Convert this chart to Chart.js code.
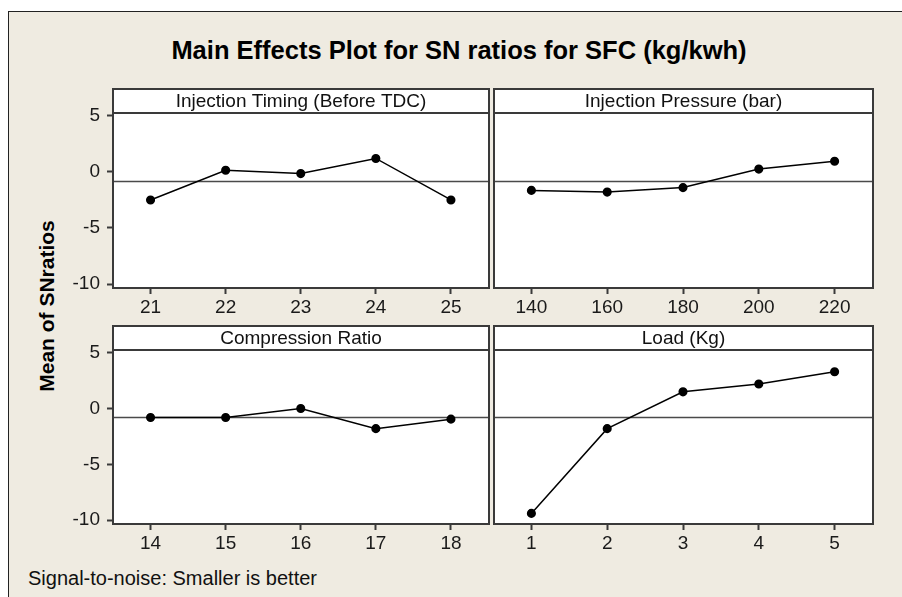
<!DOCTYPE html>
<html>
<head>
<meta charset="utf-8">
<script src="https://cdn.jsdelivr.net/npm/chart.js@4.4.0/dist/chart.umd.min.js"></script>
<style>
  html, body { margin:0; padding:0; background:#fff; }
  body { width:902px; height:597px; position:relative; overflow:hidden; font-family:"Liberation Sans", Arial, sans-serif; }
  #frame { position:absolute; left:8px; top:11px; width:900px; height:600px; background:#efebe1; border-left:1px solid #222; border-top:1px solid #222; }
  canvas { position:absolute; }
  .title { position:absolute; left:8px; width:902px; top:36px; text-align:center; font-weight:bold; font-size:25.5px; color:#000; white-space:nowrap; }
  .ylab { position:absolute; left:47px; top:306px; transform:translate(-50%,-50%) rotate(-90deg); font-weight:bold; font-size:21px; white-space:nowrap; color:#000; }
  .note { position:absolute; left:28px; top:567px; font-size:20px; color:#111; white-space:nowrap; }
</style>
</head>
<body>
<div id="frame"></div>
<div class="title">Main Effects Plot for SN ratios for SFC (kg/kwh)</div>
<div class="ylab">Mean of SNratios</div>
<div class="note">Signal-to-noise: Smaller is better</div>
<canvas id="p1" width="441" height="243" style="left:53px;top:85px"></canvas>
<canvas id="p2" width="390" height="243" style="left:488px;top:85px"></canvas>
<canvas id="p3" width="441" height="242" style="left:53px;top:322px"></canvas>
<canvas id="p4" width="390" height="242" style="left:488px;top:322px"></canvas>
<script>
/* ---------- data ---------- */
const timingLabels = ['21','22','23','24','25'];
const timingSN = [-2.5, 0.15, -0.15, 1.2, -2.5];

const pressureLabels = ['140','160','180','200','220'];
const pressureSN = [-1.65, -1.8, -1.4, 0.25, 0.95];

const compLabels = ['14','15','16','17','18'];
const compSN = [-0.8, -0.8, 0.0, -1.8, -0.95];

const loadLabels = ['1','2','3','4','5'];
const loadSN = [-9.4, -1.8, 1.5, 2.2, 3.3];

const yTicks = [-10, -5, 0, 5];
const grandMean = -0.8;

/* ---------- panel frame / strip / reference line ---------- */
const STRIP = 24;
const FONT = '"Liberation Sans", Arial, sans-serif';
const panelPlugin = {
  id: 'panel',
  beforeDraw(chart){
    const {ctx, chartArea:a} = chart;
    ctx.save();
    ctx.fillStyle = '#fff';
    ctx.fillRect(a.left, a.top - STRIP, a.right - a.left, a.bottom - a.top + STRIP);
    ctx.restore();
  },
  beforeDatasetsDraw(chart){
    const {ctx, chartArea:a} = chart;
    const y = Math.round(chart.scales.y.getPixelForValue(grandMean)) + 0.5;
    ctx.save();
    ctx.strokeStyle = '#4a4a4a';
    ctx.lineWidth = 1.5;
    ctx.beginPath(); ctx.moveTo(a.left, y); ctx.lineTo(a.right, y); ctx.stroke();
    ctx.restore();
  },
  afterDraw(chart){
    const {ctx, chartArea:a} = chart;
    const l = Math.round(a.left), r = Math.round(a.right), t = Math.round(a.top), b = Math.round(a.bottom);
    ctx.save();
    ctx.strokeStyle = '#3a3a3a';
    ctx.lineWidth = 2;
    ctx.strokeRect(l, t - STRIP, r - l, b - t + STRIP);
    ctx.beginPath(); ctx.moveTo(l, t); ctx.lineTo(r, t); ctx.stroke();
    ctx.fillStyle = '#111';
    ctx.font = '19px ' + FONT;
    ctx.textAlign = 'center';
    ctx.textBaseline = 'middle';
    ctx.fillText(chart.options.plugins.panel.label, (l + r) / 2, t - STRIP / 2 + 1);
    ctx.restore();
  }
};

function makePanel(id, label, labels, values, showY){
  return new Chart(document.getElementById(id), {
    type: 'line',
    data: {
      labels: labels,
      datasets: [{
        data: values,
        borderColor: '#000',
        borderWidth: 1.5,
        pointRadius: 3.8,
        pointBackgroundColor: '#000',
        pointBorderColor: '#000',
        tension: 0
      }]
    },
    options: {
      responsive: false,
      animation: false,
      layout: { padding: { top: 28, left: showY ? 0 : 5, right: showY ? 1 : 5, bottom: 0 } },
      plugins: { legend: {display:false}, tooltip: {enabled:false}, panel: { label: label } },
      scales: {
        x: {
          type: 'category',
          offset: true,
          border: { display: false },
          grid: { drawOnChartArea: false, drawTicks: true, tickLength: 6, tickWidth: 2, tickColor: '#3a3a3a', offset: false },
          ticks: { color: '#1a1a1a', padding: 2, font: { family: FONT, size: 19 } },
          afterFit(s){ s.height = 40; }
        },
        y: {
          display: showY,
          min: -10.35,
          max: 5.25,
          border: { display: false },
          grid: { drawOnChartArea: false, drawTicks: true, tickLength: 6, tickWidth: 2, tickColor: '#3a3a3a' },
          ticks: { color: '#1a1a1a', padding: 7, font: { family: FONT, size: 19 } },
          afterBuildTicks(s){ s.ticks = yTicks.map(v => ({ value: v })); },
          afterFit(s){ if(showY) s.width = 60; }
        }
      }
    },
    plugins: [panelPlugin]
  });
}

makePanel('p1', 'Injection Timing (Before TDC)', timingLabels, timingSN, true);
makePanel('p2', 'Injection Pressure (bar)', pressureLabels, pressureSN, false);
makePanel('p3', 'Compression Ratio', compLabels, compSN, true);
makePanel('p4', 'Load (Kg)', loadLabels, loadSN, false);
</script>
</body>
</html>
